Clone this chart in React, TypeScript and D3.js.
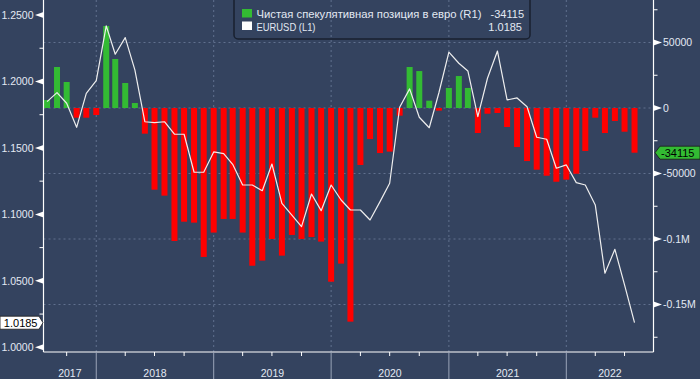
import React from "react";
import * as d3 from "d3";

const months: string[] = [
  "2017-08","2017-09","2017-10","2017-11","2017-12",
  "2018-01","2018-02","2018-03","2018-04","2018-05","2018-06","2018-07","2018-08","2018-09","2018-10","2018-11","2018-12",
  "2019-01","2019-02","2019-03","2019-04","2019-05","2019-06","2019-07","2019-08","2019-09","2019-10","2019-11","2019-12",
  "2020-01","2020-02","2020-03","2020-04","2020-05","2020-06","2020-07","2020-08","2020-09","2020-10","2020-11","2020-12",
  "2021-01","2021-02","2021-03","2021-04","2021-05","2021-06","2021-07","2021-08","2021-09","2021-10","2021-11","2021-12",
  "2022-01","2022-02","2022-03","2022-04","2022-05","2022-06","2022-07","2022-08",
];

const netPosition: number[] = [
  6100, 31300, 19850, -7400, -7400,
  -5340, 62600, 37400, 19080, 3800, -19600, -62360, -66900, -101500, -86800, -87500, -113700,
  -95100, -84700, -84700, -95100, -120400, -116500, -100000, -112700, -96900, -100000, -98500, -102000,
  -132600, -118800, -163100, -43500, -23700, -34400, -33300, -5850, 31300, 28200, 5600, -2000,
  15300, 24400, 15300, -19100, -4350, -3800, -14500, -29800, -40500, -47100, -51700, -56300,
  -54700, -50200, -32800, -7400, -19100, -9900, -18100, -34115,
];

const eurusd: number[] = [
  1.1848, 1.1916, 1.1836, 1.1655, 1.1911,
  1.2006, 1.2418, 1.2205, 1.2330, 1.2087, 1.1697, 1.1690, 1.1697, 1.1603, 1.1603, 1.1317, 1.1317,
  1.1470, 1.1457, 1.1377, 1.1221, 1.1221, 1.1178, 1.1379, 1.1083, 1.0995, 1.0908, 1.1153, 1.1028,
  1.1221, 1.1108, 1.1033, 1.1033, 1.0958, 1.1096, 1.1234, 1.1806, 1.1944, 1.1731, 1.1652, 1.1915,
  1.2220, 1.2137, 1.2079, 1.1735, 1.2024, 1.2229, 1.1861, 1.1876, 1.1810, 1.1580, 1.1565, 1.1347,
  1.1372, 1.1239, 1.1221, 1.1071, 1.0557, 1.0737, 1.0469, 1.0185,
];

const leftTicks: number[] = [1.0, 1.05, 1.1, 1.15, 1.2, 1.25];
const leftMinor: number[] = [1.025, 1.075, 1.125, 1.175, 1.225];
const rightTicks: number[] = [50000, 0, -50000, -100000, -150000];
const rightTickLabels: string[] = ["50000", "0", "-50000", "-0.1M", "-0.15M"];
const rightMinor: number[] = [75000, 25000, -25000, -75000, -125000, -175000];
const years: string[] = ["2017", "2018", "2019", "2020", "2021", "2022"];
const yearBoundaries: string[] = ["2018-01-01", "2019-01-01", "2020-01-01", "2021-01-01", "2022-01-01"];
const quarterTicks: string[] = [
  "2017-10-01",
  "2018-04-01","2018-07-01","2018-10-01",
  "2019-04-01","2019-07-01","2019-10-01",
  "2020-04-01","2020-07-01","2020-10-01",
  "2021-04-01","2021-07-01","2021-10-01",
  "2022-04-01","2022-07-01",
];

const legendLabels: string[] = ["Чистая спекулятивная позиция в евро (R1)", "EURUSD (L1)"];
const legendValues: string[] = ["-34115", "1.0185"];

const W = 700, H = 379;
const L = 43.5, R = 653.5, B = 352, T = 0;
const BG = "#34435f";
const GREEN = "#33bb33";
const RED = "#ff0000";
const TXT = "#e3e9f3";
const GRID = "#60708e";
const FONT = "'Liberation Sans', Arial, sans-serif";

const parse = d3.timeParse("%Y-%m-%d");
const pm = (m: string) => parse(m + "-01") as Date;

export default function App() {
  const x = d3.scaleTime().domain([new Date(2017, 6, 21), new Date(2022, 8, 29)]).range([L, R]);
  const yL = d3.scaleLinear().domain([1.0, 1.25]).range([347.3, 15]);
  const yR = d3.scaleLinear().domain([0, 50000]).range([108, 42.5]);
  const barW = 6;

  const line = d3.line<number>()
    .x((_, i) => x(pm(months[i])))
    .y((d) => yL(d));

  const yearEdges = [L, ...yearBoundaries.map((d) => x(parse(d) as Date)), R];

  const lastL = yL(eurusd[eurusd.length - 1]);
  const lastR = yR(netPosition[netPosition.length - 1]);

  return (
    <svg width={W} height={H} style={{ position: "absolute", left: 0, top: 0 }} fontFamily={FONT}>
      <rect x={0} y={0} width={W} height={H} fill={BG} />
      {/* grid */}
      {rightTicks.map((v) => (
        <line key={"hg" + v} x1={L} x2={R} y1={yR(v)} y2={yR(v)} stroke={GRID} strokeDasharray="2,3" strokeWidth={1} />
      ))}
      {yearBoundaries.map((d) => {
        const xx = x(parse(d) as Date);
        return <line key={"vg" + d} x1={xx} x2={xx} y1={T} y2={B} stroke={GRID} strokeDasharray="2,3" strokeWidth={1} />;
      })}
      {/* legend box */}
      <rect x={234} y={-6} width={296} height={45} rx={4} fill="none" stroke="#18202f" strokeWidth={1.5} />
      <rect x={242} y={9} width={10} height={8.5} fill={GREEN} />
      <rect x={242} y={21.5} width={10} height={8.5} fill="#ffffff" />
      <text x={256.5} y={17.8} fontSize={11} fill={TXT} textLength={225} lengthAdjust="spacingAndGlyphs">{legendLabels[0]}</text>
      <text x={256.5} y={30.6} fontSize={11} fill={TXT} textLength={59} lengthAdjust="spacingAndGlyphs">{legendLabels[1]}</text>
      <text x={524} y={17.8} fontSize={11} fill={TXT} textAnchor="end">{legendValues[0]}</text>
      <text x={522} y={30.6} fontSize={11} fill={TXT} textAnchor="end">{legendValues[1]}</text>
      {/* bars */}
      {netPosition.map((v, i) => {
        const cx = x(pm(months[i]));
        const y0 = yR(0), y1 = yR(v);
        return (
          <rect key={"b" + i} x={cx - barW / 2} width={barW} y={Math.min(y0, y1)} height={Math.abs(y1 - y0)} fill={v >= 0 ? GREEN : RED} />
        );
      })}
      {/* line */}
      <path d={line(eurusd) || ""} fill="none" stroke="#eeeeee" strokeWidth={1.2} strokeLinejoin="round" />
      {/* frame */}
      <line x1={L} x2={L} y1={T} y2={B} stroke="#ffffff" strokeWidth={1.2} />
      <line x1={R} x2={R} y1={T} y2={B} stroke="#ffffff" strokeWidth={1.2} />
      <line x1={L} x2={R} y1={B} y2={B} stroke="#ffffff" strokeWidth={1.2} />
      {/* left axis */}
      {leftTicks.map((v) => (
        <g key={"lt" + v}>
          <polygon points={`${L},${yL(v) - 3} ${L - 8.5},${yL(v)} ${L},${yL(v) + 3}`} fill="#ffffff" />
          <text x={33.5} y={yL(v) + 3.8} fontSize={10.5} fill={TXT} textAnchor="end">{v.toFixed(4)}</text>
        </g>
      ))}
      {leftMinor.map((v) => (
        <line key={"lm" + v} x1={L - 4} x2={L} y1={yL(v)} y2={yL(v)} stroke="#ffffff" strokeWidth={1} />
      ))}
      {/* right axis */}
      {rightTicks.map((v, i) => (
        <g key={"rt" + v}>
          <polygon points={`${R},${yR(v) - 3} ${R + 8.5},${yR(v)} ${R},${yR(v) + 3}`} fill="#ffffff" />
          <text x={663} y={yR(v) + 3.8} fontSize={10.5} fill={TXT}>{rightTickLabels[i]}</text>
        </g>
      ))}
      {rightMinor.map((v) => (
        <line key={"rm" + v} x1={R} x2={R + 4} y1={yR(v)} y2={yR(v)} stroke="#ffffff" strokeWidth={1} />
      ))}
      {/* bottom axis */}
      {quarterTicks.map((d) => {
        const xx = x(parse(d) as Date);
        return <line key={"q" + d} x1={xx} x2={xx} y1={B} y2={B + 4} stroke="#ffffff" strokeWidth={1} />;
      })}
      {yearBoundaries.map((d) => {
        const xx = x(parse(d) as Date);
        return <line key={"ys" + d} x1={xx} x2={xx} y1={B} y2={H} stroke="#9aa4b8" strokeWidth={1} />;
      })}
      {years.map((yy, i) => (
        <text key={"yl" + yy} x={(yearEdges[i] + yearEdges[i + 1]) / 2} y={376.8} fontSize={10.5} fill={TXT} textAnchor="middle">{yy}</text>
      ))}
      {/* last value tags */}
      <polygon points={`0,${lastL - 6.5} 39,${lastL - 6.5} 43,${lastL} 39,${lastL + 6.5} 0,${lastL + 6.5}`} fill="#ffffff" stroke="#1a1a1a" strokeWidth={0.8} />
      <text x={37.5} y={lastL + 4} fontSize={11} fill="#000000" textAnchor="end">{legendValues[1]}</text>
      <polygon points={`655,${lastR} 660,${lastR - 6.5} 700,${lastR - 6.5} 700,${lastR + 6.5} 660,${lastR + 6.5}`} fill={GREEN} stroke="#1a1a1a" strokeWidth={0.8} />
      <text x={661} y={lastR + 4} fontSize={11} fill="#000000">{legendValues[0]}</text>
    </svg>
  );
}
